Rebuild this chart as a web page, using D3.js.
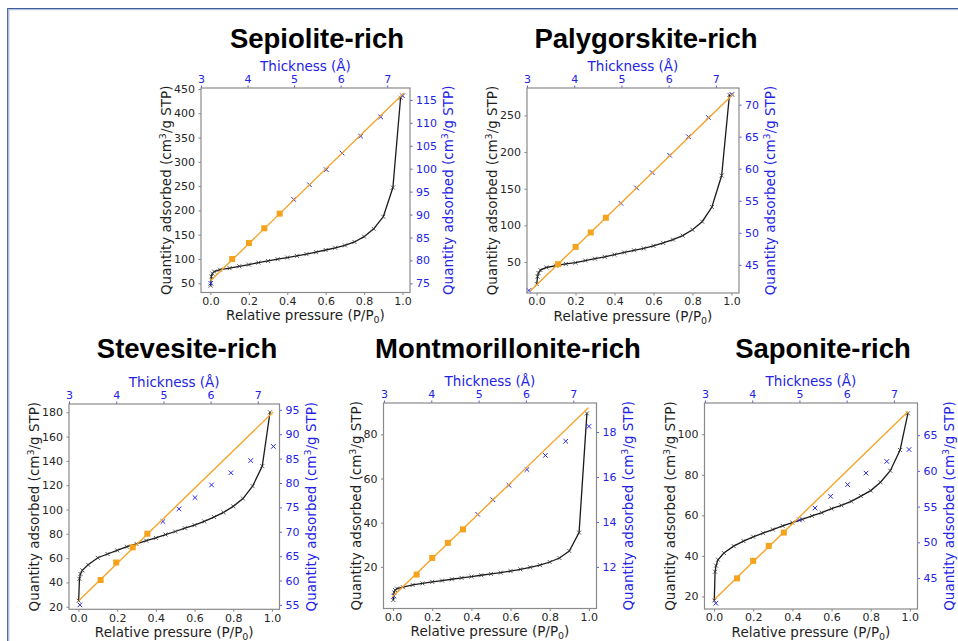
<!DOCTYPE html>
<html>
<head>
<meta charset="utf-8">
<script src="https://cdn.jsdelivr.net/npm/d3@7"></script>
<style>
body { margin: 0; background: #fff; }
svg { display: block; }
.ax text { font-family: "DejaVu Sans", sans-serif; font-size: 11px; fill: #262626; }
.ax line { stroke: #777; stroke-width: 0.9; }
.ax .domain { display: none; }
.ax.blue text { fill: #2323e6; }
.ax.blue line { stroke: #4a4ad8; }
.lbl { font-family: "DejaVu Sans", sans-serif; font-size: 13.5px; fill: #1e1e1e; }
.lbl.blue { fill: #2323e6; }
.title { font-family: "Liberation Sans", Arial, sans-serif; font-weight: bold; font-size: 27.5px; fill: #000; }
</style>
</head>
<body>
<svg id="fig" width="958" height="641"></svg>
<script>
// relative pressure points of the isotherms (same grid for every sample)
var relP = [0.001, 0.005, 0.01, 0.02, 0.05, 0.1, 0.15, 0.2, 0.25, 0.3, 0.35, 0.4,
            0.45, 0.5, 0.55, 0.6, 0.65, 0.7, 0.75, 0.8, 0.85, 0.9, 0.95, 0.99];
var pTicks = [0, 0.2, 0.4, 0.6, 0.8, 1.0];
var tTicks = [3, 4, 5, 6, 7];
var fitFirst = 1, fitLast = 4;   // t-plot points used for the fit (orange squares)

// Sepiolite-rich
var sepIso = [45, 64, 70, 74, 78, 81, 85, 88.5, 92.5, 96, 99.5, 103, 106.5, 110, 114, 118.5, 123, 128, 135, 146, 162, 187, 247, 432];
var sepT = [3.21, 3.67, 4.03, 4.36, 4.69, 4.99, 5.33, 5.69, 6.03, 6.43, 6.86, 7.33];
var sepQ = [75.0, 80.3, 83.8, 87.0, 90.2, 93.3, 96.5, 99.8, 103.4, 107.1, 111.3, 115.9];
var sepFitT = [3.21, 7.36];
var sepFitQ = [75.6, 116.5];
var sepTicksL = [50, 100, 150, 200, 250, 300, 350, 400, 450];
var sepTicksR = [75, 80, 85, 90, 95, 100, 105, 110, 115];

// Palygorskite-rich
var palIso = [20, 30, 35, 39, 42.5, 45, 47.3, 49, 52, 54.5, 57, 60, 63, 66, 68.6, 72, 76, 80.5, 86, 94, 105, 125, 168, 278];
var palT = [3.04, 3.66, 4.03, 4.35, 4.67, 4.99, 5.32, 5.65, 6.02, 6.42, 6.84, 7.34];
var palQ = [41.0, 45.1, 47.8, 50.05, 52.35, 54.6, 57.0, 59.4, 62.1, 65.0, 68.0, 71.6];
var palFitT = [3.07, 7.375];
var palFitQ = [40.9, 71.7];
var palTicksL = [50, 100, 150, 200, 250];
var palTicksR = [45, 50, 55, 60, 65, 70];

// Stevesite-rich
var steIso = [25, 43, 47, 50, 54.5, 60.3, 63.4, 66.4, 69.4, 71.7, 74.4, 76.6, 79.4, 81.9, 84.6, 87.1, 90.2, 93.8, 97.6, 102.6, 109, 119.2, 135.7, 180];
var steT = [3.23, 3.67, 4.00, 4.35, 4.66, 4.99, 5.33, 5.67, 6.02, 6.43, 6.85, 7.33];
var steQ = [55.0, 60.1, 63.7, 66.8, 69.6, 72.1, 74.7, 77.0, 79.6, 82.1, 84.6, 87.5];
var steFitT = [3.21, 7.32];
var steFitQ = [55.9, 94.5];
var steTicksL = [20, 40, 60, 80, 100, 120, 140, 160, 180];
var steTicksR = [55, 60, 65, 70, 75, 80, 85, 90, 95];

// Montmorillonite-rich
var monIso = [5, 8.5, 9.5, 10.2, 10.8, 11.8, 12.5, 13.2, 13.8, 14.4, 15.0, 15.6, 16.2, 16.8, 17.4, 18.1, 18.9, 19.8, 20.8, 22.2, 24.0, 27.2, 35.5, 89.5];
var monT = [3.21, 3.69, 4.02, 4.35, 4.67, 4.98, 5.30, 5.64, 6.02, 6.41, 6.84, 7.33];
var monQ = [10.70, 11.66, 12.4, 13.07, 13.67, 14.34, 14.99, 15.63, 16.33, 16.96, 17.59, 18.25];
var monFitT = [3.18, 7.32];
var monFitQ = [10.67, 19.08];
var monTicksL = [20, 40, 60, 80];
var monTicksR = [12, 14, 16, 18];

// Saponite-rich
var sapIso = [18, 32.2, 35.2, 38.1, 41.4, 44.8, 47.3, 49.4, 51.2, 53, 54.8, 56.4, 58, 59.7, 61.3, 63.3, 64.9, 66.9, 69.5, 72.2, 76.3, 82, 92.2, 110.3];
var sapT = [3.23, 3.68, 4.02, 4.35, 4.67, 5.00, 5.33, 5.66, 6.02, 6.41, 6.85, 7.32];
var sapQ = [41.47, 44.96, 47.41, 49.5, 51.37, 53.13, 54.8, 56.44, 58.07, 59.69, 61.32, 62.99];
var sapFitT = [3.21, 7.30];
var sapFitQ = [42.07, 68.3];
var sapTicksL = [20, 40, 60, 80, 100];
var sapTicksR = [45, 50, 55, 60, 65];

var panels = [
    { title: "Sepiolite-rich", titleAt: [317, 47.5], box: [201, 88, 209, 204.5],
      iso: sepIso, t: sepT, q: sepQ, fitT: sepFitT, fitQ: sepFitQ, ticksL: sepTicksL, ticksR: sepTicksR,
      yL: [31, 452], yR: [73, 117.6], tDom: [3.0, 7.49] },
    { title: "Palygorskite-rich", titleAt: [646, 47.5], box: [527, 88, 212, 205],
      iso: palIso, t: palT, q: palQ, fitT: palFitT, fitQ: palFitQ, ticksL: palTicksL, ticksR: palTicksR,
      yL: [7.7, 287.4], yR: [40.6, 72.6], tDom: [3.0, 7.49] },
    { title: "Stevesite-rich", titleAt: [187, 357.5], box: [69, 404, 210.5, 205.3],
      iso: steIso, t: steT, q: steQ, fitT: steFitT, fitQ: steFitQ, ticksL: steTicksL, ticksR: steTicksR,
      yL: [17.9, 186.8], yR: [54.1, 96.2], tDom: [3.0, 7.46] },
    { title: "Montmorillonite-rich", titleAt: [508, 357.5], box: [383.5, 403, 213, 205.5],
      iso: monIso, t: monT, q: monQ, fitT: monFitT, fitQ: monFitQ, ticksL: monTicksL, ticksR: monTicksR,
      yL: [1.15, 94.2], yR: [10.15, 19.29], tDom: [2.99, 7.49] },
    { title: "Saponite-rich", titleAt: [823, 357.5], box: [704.5, 403, 213, 206],
      iso: sapIso, t: sapT, q: sapQ, fitT: sapFitT, fitQ: sapFitQ, ticksL: sapTicksL, ticksR: sapTicksR,
      yL: [13.8, 115.4], yR: [40.67, 69.5], tDom: [2.99, 7.5] }
];

var svg = d3.select("#fig");

// frame of the original figure (top and left edge only)
svg.append("line").attr("x1", 8).attr("y1", 8.5).attr("x2", 958).attr("y2", 8.5).style("stroke", "#3d5d9c").style("stroke-width", 1.2);
svg.append("line").attr("x1", 9).attr("y1", 9.7).attr("x2", 958).attr("y2", 9.7).style("stroke", "#a4b6d8").style("stroke-width", 1);
svg.append("line").attr("x1", 7.7).attr("y1", 8).attr("x2", 7.7).attr("y2", 641).style("stroke", "#3d5d9c").style("stroke-width", 1.2);
svg.append("line").attr("x1", 8.9).attr("y1", 9.5).attr("x2", 8.9).attr("y2", 641).style("stroke", "#a4b6d8").style("stroke-width", 1);

function crossPath(s) {
    return "M" + (-s) + "," + (-s) + "L" + s + "," + s + "M" + (-s) + "," + s + "L" + s + "," + (-s);
}

panels.forEach(function(p) {
    var w = p.box[2], h = p.box[3];
    var g = svg.append("g").attr("transform", "translate(" + p.box[0] + "," + p.box[1] + ")");

    var x = d3.scaleLinear().domain([-0.049, 1.039]).range([0, w]);
    var yL = d3.scaleLinear().domain(p.yL).range([h, 0]);
    var xT = d3.scaleLinear().domain(p.tDom).range([0, w]);
    var yR = d3.scaleLinear().domain(p.yR).range([h, 0]);

    g.append("g").attr("class", "ax").attr("transform", "translate(0," + h + ")")
        .call(d3.axisBottom(x).tickValues(pTicks).tickFormat(d3.format(".1f")).tickSize(2.5).tickPadding(2));
    var axL = g.append("g").attr("class", "ax")
        .call(d3.axisLeft(yL).tickValues(p.ticksL).tickSize(2.5).tickPadding(3.5));
    g.append("g").attr("class", "ax blue")
        .call(d3.axisTop(xT).tickValues(tTicks).tickFormat(d3.format("d")).tickSize(2.5).tickPadding(3));
    var axR = g.append("g").attr("class", "ax blue").attr("transform", "translate(" + w + ",0)")
        .call(d3.axisRight(yR).tickValues(p.ticksR).tickSize(2.5).tickPadding(3.5));

    // isotherm
    var pts = relP.map(function(d, i) { return [d, p.iso[i]]; });
    g.append("path")
        .attr("d", d3.line().x(function(d) { return x(d[0]); }).y(function(d) { return yL(d[1]); })(pts))
        .style("fill", "none").style("stroke", "#1a1a1a").style("stroke-width", 1.3);
    g.selectAll(".isoMark").data(pts).enter().append("path")
        .attr("transform", function(d) { return "translate(" + x(d[0]) + "," + yL(d[1]) + ")"; })
        .attr("d", crossPath(2))
        .style("stroke", "#333").style("stroke-width", 0.8);

    // t-plot on the twin axes
    var tp = p.t.map(function(d, i) { return [d, p.q[i], i]; });
    g.selectAll(".tMark").data(tp.filter(function(d) { return d[2] < fitFirst || d[2] > fitLast; }))
        .enter().append("path")
        .attr("transform", function(d) { return "translate(" + xT(d[0]) + "," + yR(d[1]) + ")"; })
        .attr("d", crossPath(2.3))
        .style("stroke", "#2a2ae0").style("stroke-width", 1);
    g.append("line")
        .attr("x1", xT(p.fitT[0])).attr("y1", yR(p.fitQ[0]))
        .attr("x2", xT(p.fitT[1])).attr("y2", yR(p.fitQ[1]))
        .style("stroke", "#f5a52a").style("stroke-width", 1.4);
    g.selectAll(".fitMark").data(tp.filter(function(d) { return d[2] >= fitFirst && d[2] <= fitLast; }))
        .enter().append("rect")
        .attr("x", function(d) { return xT(d[0]) - 3; })
        .attr("y", function(d) { return yR(d[1]) - 3; })
        .attr("width", 6).attr("height", 6)
        .style("fill", "#f5a21c");

    // frame
    g.append("rect").attr("width", w).attr("height", h)
        .style("fill", "none").style("stroke", "#8a8a8a").style("stroke-width", 1.2);

    // axis labels
    var bl = axL.node().getBBox();
    var br = axR.node().getBBox();
    var xl = g.append("text").attr("class", "lbl").attr("text-anchor", "middle")
        .attr("x", w / 2).attr("y", h + 27.5);
    xl.append("tspan").text("Relative pressure (P/P");
    xl.append("tspan").attr("font-size", "9.5px").attr("dy", 3).text("0");
    xl.append("tspan").attr("dy", -3).text(")");

    g.append("text").attr("class", "lbl blue").attr("text-anchor", "middle")
        .attr("x", w / 2).attr("y", -17).text("Thickness (Å)");

    function yLabel(cls, px) {
        var t = g.append("text").attr("class", cls).attr("text-anchor", "middle")
            .attr("transform", "translate(" + px + "," + (h / 2) + ") rotate(-90)");
        t.append("tspan").text("Quantity adsorbed (cm");
        t.append("tspan").attr("font-size", "9.5px").attr("dy", -5).text("3");
        t.append("tspan").attr("dy", 5).text("/g STP)");
    }
    yLabel("lbl", bl.x - 3);
    yLabel("lbl blue", w + br.x + br.width + 16);

    svg.append("text").attr("class", "title").attr("text-anchor", "middle")
        .attr("x", p.titleAt[0]).attr("y", p.titleAt[1]).text(p.title);
});
</script>
</body>
</html>
